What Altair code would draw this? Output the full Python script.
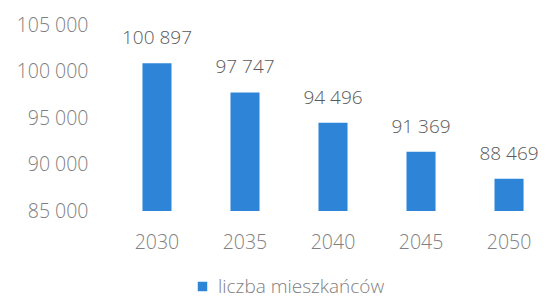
import altair as alt
import pandas as pd

years = ["2030", "2035", "2040", "2045", "2050"]
values = [100897, 97747, 94496, 91369, 88469]
series = ["liczba mieszkańców"] * 5
y_ticks = [85000, 90000, 95000, 100000, 105000]

df = pd.DataFrame({"rok": years, "wartosc": values, "seria": series})

FONT = "Open Sans"
W = 300
fmt = "replace(format(datum.{f}, ','), ',', ' ')"

x = alt.X(
    "rok:N",
    sort=years,
    title=None,
    scale=alt.Scale(paddingInner=0.67, paddingOuter=0.346, align=0.73, round=False),
    axis=alt.Axis(labelAngle=0, domain=False, ticks=False, tickSize=0, labelPadding=22,
                  labelFont=FONT, labelFontWeight=W, labelFontSize=19.5, labelColor="#808080",
                  grid=False),
)

base = alt.Chart(df)

bars = base.mark_bar().encode(
    x=x,
    y=alt.Y(
        "wartosc:Q",
        title=None,
        scale=alt.Scale(domain=[85000, 105000], nice=False, zero=False),
        axis=alt.Axis(values=y_ticks, labelExpr=fmt.format(f="value"), domain=False, ticks=False,
                      tickSize=0, grid=False, labelPadding=10, labelFont=FONT, labelFontWeight=W,
                      labelFontSize=19.5, labelColor="#808080"),
    ),
    y2=alt.datum(85000),
    color=alt.Color(
        "seria:N",
        scale=alt.Scale(range=["#2E85D8"]),
        legend=alt.Legend(
            title=None, orient="none", legendX=95, legendY=252, symbolType="square",
            symbolSize=90, symbolStrokeWidth=0, labelFont=FONT, labelFontWeight=W,
            labelFontSize=19, labelColor="#808080", labelOffset=6, padding=0, labelLimit=400,
        ),
    ),
)

labels = base.transform_calculate(lab=fmt.format(f="wartosc")).mark_text(
    baseline="alphabetic", dy=-19, font=FONT, fontWeight=W, fontSize=19, color="#5a5a5a"
).encode(x=x, y=alt.Y("wartosc:Q"), text="lab:N")

chart = (
    alt.layer(bars, labels)
    .properties(width=442, height=186, autosize="none", background="white",
                padding={"left": 90, "top": 17, "right": 0, "bottom": 86})
    .configure_view(stroke=None, strokeWidth=0)
)

chart.save("out.html", embed_options={"renderer": "svg", "actions": False})
